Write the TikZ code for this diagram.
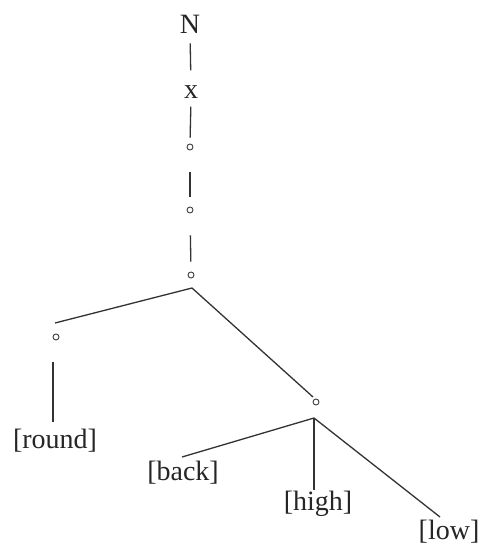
\documentclass[tikz,border=0pt]{standalone}
\usepackage{fontspec}
\setmainfont{Liberation Serif}
\begin{document}
\begin{tikzpicture}[x=1pt,y=-1pt,
  lbl/.style={inner sep=0pt,text=black!85,font=\fontsize{28}{31}\selectfont},
  dot/.style={circle,draw=black!75,line width=0.9pt,minimum size=6pt,inner sep=0pt},
  edge/.style={draw=black!80,line width=1.3pt}]
\useasboundingbox[fill=white] (0,0) rectangle (481,546);
% top chain
\node[lbl] (N) at (190,24) {N};
\node[lbl] (x) at (191,92) {x};
\node[dot] (o1) at (190,147) {};
\node[dot] (o2) at (190,210) {};
\node[dot] (o3) at (191,275) {};
\node[dot] (oL) at (56,337) {};
\node[dot] (oR) at (316,402) {};
\node[lbl,anchor=base] (round) at (55,448) {[round]};
\node[lbl,anchor=base] (back) at (183,480) {[back]};
\node[lbl,anchor=base] (high) at (318,510) {[high]};
\node[lbl,anchor=base] (low) at (449,539) {[low]};
% connector points
\coordinate (root) at (192,288);
\coordinate (rootL) at (55,323);
\coordinate (rootR) at (313,397);
\coordinate (fork) at (314,418);
\coordinate (backE) at (182,457);
\coordinate (highE) at (314,490);
\coordinate (lowE) at (440,517);
\coordinate (lTop) at (53,362);
\coordinate (lBot) at (53,422);
% connectors
\draw[edge,shorten <=10pt,shorten >=15pt] (N.south) -- (x.north);
\draw[edge,shorten <=8pt,shorten >=6pt] (x.south) -- (o1.north);
\draw[edge,shorten <=22pt,shorten >=10pt] (o1.south) -- (o2.north);
\draw[edge,shorten <=22pt,shorten >=10pt] (o2.south) -- (o3.north);
\draw[edge] (rootL) -- (root) -- (rootR);
\draw[edge] (lTop) -- (lBot);
\draw[edge] (backE) -- (fork) -- (lowE);
\draw[edge] (fork) -- (highE);
\end{tikzpicture}
\end{document}
